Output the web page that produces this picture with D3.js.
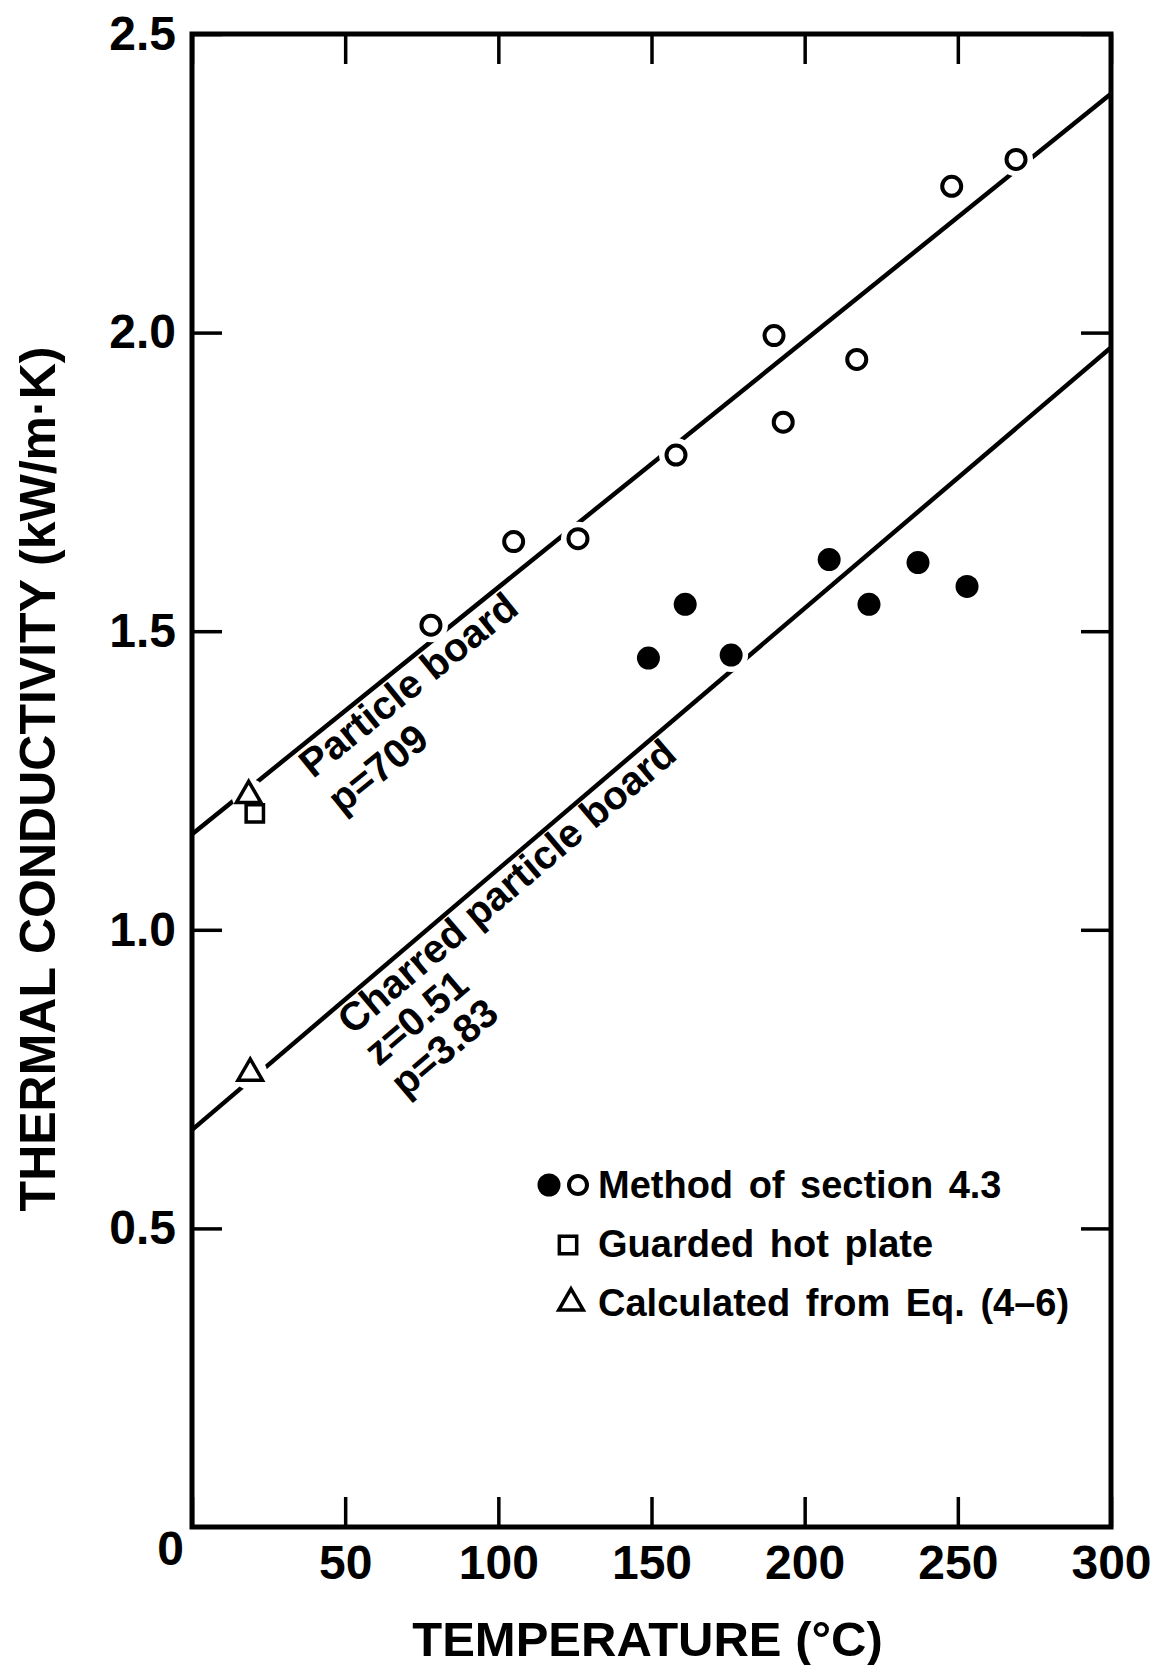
<!DOCTYPE html>
<html>
<head>
<meta charset="utf-8">
<script src="https://cdn.jsdelivr.net/npm/d3@7"></script>
<style>
  body { margin: 0; background: #fff; }
  svg { display: block; }
  text { font-family: "Liberation Sans", Arial, Helvetica, sans-serif; font-weight: bold; fill: #000; }
</style>
</head>
<body>
<svg id="chart"></svg>
<script>
// values
const tempTicks = [0, 50, 100, 150, 200, 250, 300]
const kTicks = [0.5, 1.0, 1.5, 2.0, 2.5]

// method of section 4.3, particle board (open circles)
const openTemp = [78, 105, 126, 158, 190, 193, 217, 248, 269]
const openK = [1.51, 1.65, 1.655, 1.795, 1.995, 1.85, 1.955, 2.245, 2.29]

// method of section 4.3, charred particle board (filled circles)
const filledTemp = [149, 161, 176, 208, 221, 237, 253]
const filledK = [1.455, 1.545, 1.46, 1.62, 1.545, 1.615, 1.575]

// guarded hot plate (square)
const plateTemp = [20.5]
const plateK = [1.195]

// calculated from Eq. (4-6) (triangles)
const calcTemp = [18.5, 19]
const calcK = [1.225, 0.76]

// fitted straight lines, [temp, k] at both ends
const particleFit = [[0, 1.16], [300, 2.40]]
const charredFit = [[0, 0.665], [300, 1.975]]

// line labels: one entry per text line
const particleLabel = ["Particle board", "p=709"]
const charredLabel = ["Charred particle board", "z=0.51", "p=3.83"]

const width = 1154, height = 1665
const margin = {top: 34, right: 43, bottom: 138, left: 192}

const svg = d3.select("#chart").attr("width", width).attr("height", height)

let x = d3.scaleLinear().domain([0, 300]).range([margin.left, width - margin.right])
let y = d3.scaleLinear().domain([0, 2.5]).range([height - margin.bottom, margin.top])

const tick = 30

// axes with inward ticks
let gx = svg.append("g")
    .attr("transform", `translate(0, ${y(0)})`)
    .call(d3.axisBottom(x).tickValues(tempTicks).tickSize(-tick).tickPadding(18).tickFormat(d3.format("d")))
let gy = svg.append("g")
    .attr("transform", `translate(${x(0)}, 0)`)
    .call(d3.axisLeft(y).tickValues(kTicks).tickSize(-tick).tickPadding(16).tickFormat(d3.format(".1f")))
let gt = svg.append("g")
    .attr("transform", `translate(0, ${y(2.5)})`)
    .call(d3.axisTop(x).tickValues(tempTicks).tickSize(-tick).tickFormat(""))
let gr = svg.append("g")
    .attr("transform", `translate(${x(300)}, 0)`)
    .call(d3.axisRight(y).tickValues(kTicks).tickSize(-tick).tickFormat(""))

;[gx, gy, gt, gr].forEach(g => {
    g.select(".domain").remove()
    g.selectAll(".tick line").attr("stroke", "#000").attr("stroke-width", 3.5)
    g.selectAll("text").attr("font-size", 48).attr("fill", "#000")
        .style("font-family", '"Liberation Sans", Arial, sans-serif').style("font-weight", "bold")
})

// the shared "0" sits below-left of the corner
gx.selectAll(".tick").filter(d => d === 0).select("text")
    .attr("x", -22).attr("y", 4)

// frame
svg.append("rect")
    .attr("x", x(0)).attr("y", y(2.5))
    .attr("width", x(300) - x(0)).attr("height", y(0) - y(2.5))
    .attr("fill", "none").attr("stroke", "#000").attr("stroke-width", 5)

// fitted lines
let line = d3.line().x(d => x(d[0])).y(d => y(d[1]))
svg.selectAll(".fit").data([particleFit, charredFit]).join("path")
    .attr("class", "fit")
    .attr("d", line)
    .attr("fill", "none").attr("stroke", "#000").attr("stroke-width", 4.5)

// white halos so the lines break around the markers, like the original
let halos = []
openTemp.forEach((t, i) => halos.push([t, openK[i]]))
filledTemp.forEach((t, i) => halos.push([t, filledK[i]]))
calcTemp.forEach((t, i) => halos.push([t, calcK[i]]))
plateTemp.forEach((t, i) => halos.push([t, plateK[i]]))
svg.selectAll(".halo").data(halos).join("circle")
    .attr("class", "halo")
    .attr("cx", d => x(d[0])).attr("cy", d => y(d[1]))
    .attr("r", 17).attr("fill", "#fff")

// markers
svg.selectAll(".open").data(openTemp).join("circle")
    .attr("class", "open")
    .attr("cx", d => x(d)).attr("cy", (d, i) => y(openK[i]))
    .attr("r", 9.5).attr("fill", "#fff").attr("stroke", "#000").attr("stroke-width", 4)

svg.selectAll(".filled").data(filledTemp).join("circle")
    .attr("class", "filled")
    .attr("cx", d => x(d)).attr("cy", (d, i) => y(filledK[i]))
    .attr("r", 11.5).attr("fill", "#000")

let sq = d3.symbol().type(d3.symbolSquare).size(300)
svg.selectAll(".plate").data(plateTemp).join("path")
    .attr("class", "plate")
    .attr("d", sq)
    .attr("transform", (d, i) => `translate(${x(d)}, ${y(plateK[i])})`)
    .attr("fill", "#fff").attr("stroke", "#000").attr("stroke-width", 3.5)

let tri = d3.symbol().type(d3.symbolTriangle).size(260)
svg.selectAll(".calc").data(calcTemp).join("path")
    .attr("class", "calc")
    .attr("d", tri)
    .attr("transform", (d, i) => `translate(${x(d)}, ${y(calcK[i])})`)
    .attr("fill", "#fff").attr("stroke", "#000").attr("stroke-width", 3.5)

// rotated labels along the lines
function slopeAngle(fit) {
    let dx = x(fit[1][0]) - x(fit[0][0])
    let dy = y(fit[1][1]) - y(fit[0][1])
    return Math.atan2(dy, dx) * 180 / Math.PI
}

function labelBlock(lines, t, k, fit, size, lead) {
    let g = svg.append("g")
        .attr("transform", `translate(${x(t)}, ${y(k)}) rotate(${slopeAngle(fit)})`)
    g.selectAll("text").data(lines).join("text")
        .attr("y", (d, i) => i * lead)
        .attr("font-size", size)
        .text(d => d)
}
labelBlock(particleLabel, 39.5, 1.252, particleFit, 40, 46)
labelBlock(charredLabel, 52.3, 0.822, charredFit, 40, 41)

// legend
let lg = svg.append("g")
lg.append("circle").attr("cx", 549).attr("cy", 1185).attr("r", 11.5).attr("fill", "#000")
lg.append("circle").attr("cx", 578).attr("cy", 1185).attr("r", 9)
    .attr("fill", "#fff").attr("stroke", "#000").attr("stroke-width", 4)
lg.append("path").attr("d", sq).attr("transform", "translate(568, 1245)")
    .attr("fill", "#fff").attr("stroke", "#000").attr("stroke-width", 3.5)
lg.append("path").attr("d", tri).attr("transform", "translate(571, 1303)")
    .attr("fill", "#fff").attr("stroke", "#000").attr("stroke-width", 3.5)

const legendText = ["Method of section 4.3", "Guarded hot plate", "Calculated from Eq. (4–6)"]
lg.selectAll(".lt").data(legendText).join("text")
    .attr("class", "lt")
    .attr("x", 598)
    .attr("y", (d, i) => 1198 + i * 59)
    .attr("font-size", 38)
    .attr("word-spacing", 5)
    .text(d => d)

// axis titles
svg.append("text")
    .attr("x", (x(0) + x(300)) / 2 - 4).attr("y", 1656)
    .attr("text-anchor", "middle")
    .attr("font-size", 49)
    .text("TEMPERATURE (°C)")

svg.append("text")
    .attr("transform", `translate(55, ${779}) rotate(-90)`)
    .attr("text-anchor", "middle")
    .attr("font-size", 50)
    .text("THERMAL CONDUCTIVITY (kW/m·K)")
</script>
</body>
</html>
